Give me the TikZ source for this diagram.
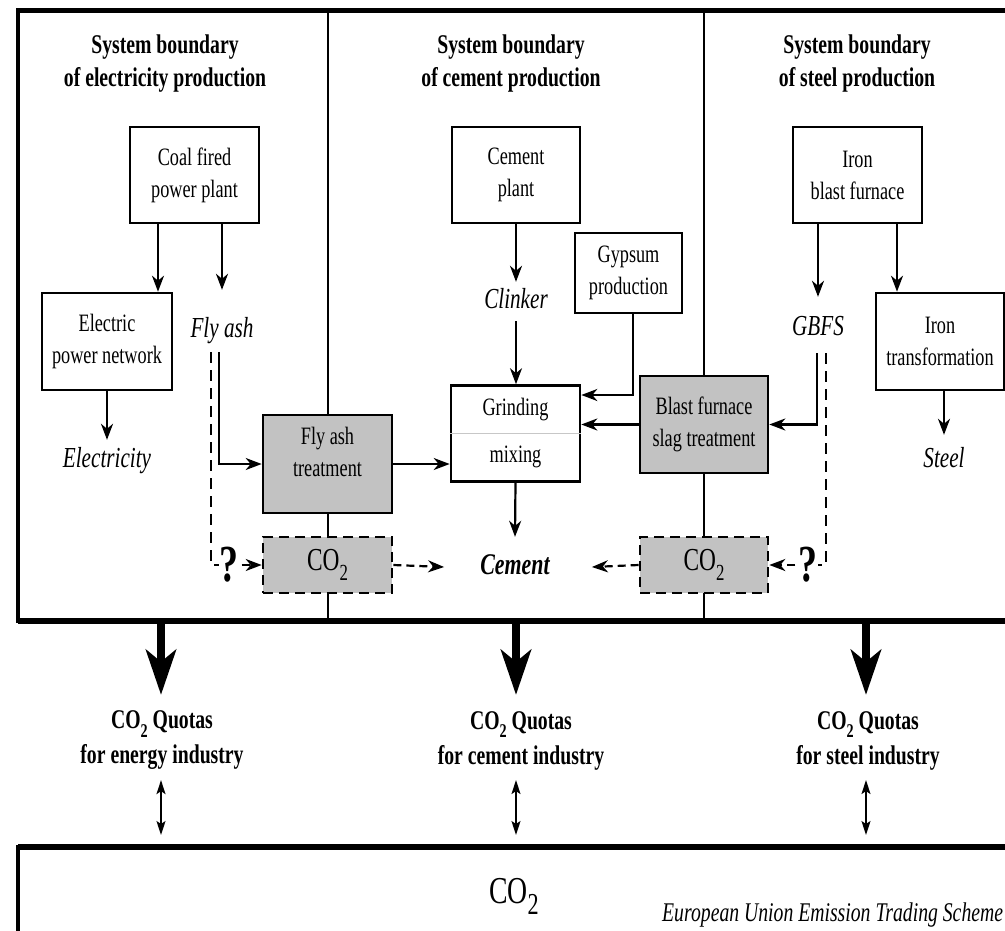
\documentclass[tikz,border=0pt]{standalone}
\usepackage{fontspec}
\setmainfont{Liberation Serif}[FakeStretch=0.73]
\usetikzlibrary{arrows.meta}
\newcommand\szbox{\fontsize{25}{32}\selectfont}
\newcommand\sztitle{\fontsize{27}{33}\selectfont\bfseries}
\newcommand\szlab{\fontsize{29}{33}\selectfont\itshape}
\newcommand\szquota{\fontsize{27}{35}\selectfont\bfseries}
\newcommand\lowsub[2][0.72]{\raisebox{-0.3em}{\scalebox{#1}{#2}}}
\begin{document}
\begin{tikzpicture}[x=1pt,y=-1pt,
  pbox/.style={draw, line width=2.6pt, inner sep=0pt, align=center, font=\szbox},
  gbox/.style={pbox, fill=black!24},
  cbox/.style={gbox, dash pattern=on 10pt off 6pt, font=\fontsize{32}{34}\selectfont},
  lab/.style={font=\szlab, inner sep=0pt, text height=20pt, text depth=6pt},
  ttl/.style={font=\sztitle, align=center, inner sep=0pt},
  quota/.style={font=\szquota, align=center, inner sep=0pt},
  qmark/.style={font=\fontsize{52}{52}\selectfont\bfseries, inner sep=0pt},
  arr/.style={line width=2.2pt, -{Stealth[length=16pt,width=12pt,inset=5pt]}},
  darr/.style={arr, dash pattern=on 8pt off 5pt},
  dline/.style={line width=2.2pt, dash pattern=on 11pt off 7pt},
  bigarr/.style={line width=8pt, -{Stealth[length=45pt,width=30pt,inset=12pt]}},
  dbl/.style={line width=1.6pt, {Stealth[length=14pt,width=9pt,inset=3pt]}-{Stealth[length=14pt,width=9pt,inset=3pt]}},
  divider/.style={line width=2pt}
]
\useasboundingbox (0,0) rectangle (1005,930);
\clip (0,0) rectangle (1005,930);
\fill[white] (0,0) rectangle (1005,930);

% frames
\node[inner sep=0pt, minimum width=1030pt, minimum height=611pt, anchor=north west] (frame) at (18,10) {};
\node[inner sep=0pt, minimum width=1030pt, minimum height=120pt, anchor=north west] (ets) at (18,847) {};

% dividers
\coordinate (d1) at (327.5,0);
\coordinate (d2) at (704,0);
\draw[divider] (frame.north -| d1) -- (frame.south -| d1);
\draw[divider] (frame.north -| d2) -- (frame.south -| d2);

\draw[line width=5pt] (frame.north west) -- (frame.north east);
\draw[line width=3.5pt] ([yshift=2pt]frame.north west) -- ([yshift=-2pt]frame.south west);
\draw[line width=6pt] (frame.south west) -- (frame.south east);
\draw[line width=6pt] (ets.north west) -- (ets.north east);
\draw[line width=3.5pt] ([yshift=2pt]ets.north west) -- (ets.south west);

% titles
\node[ttl] (t1) at (165,63.5) {System boundary\\of electricity production};
\node[ttl] (t2) at (511,63.5) {System boundary\\of cement production};
\node[ttl] (t3) at (857,63.5) {System boundary\\of steel production};

% boxes
\node[pbox, minimum width=129pt, minimum height=96pt] (coal) at (194.5,175) {Coal fired\\power plant};
\node[pbox, minimum width=130pt, minimum height=97pt] (elec) at (107,341.5) {Electric\\power network};
\node[pbox, minimum width=128pt, minimum height=96pt] (cp) at (516,175) {Cement\\plant};
\node[pbox, minimum width=107pt, minimum height=80pt] (gyp) at (628.5,273) {Gypsum\\production};
\node[pbox, minimum width=129pt, minimum height=96pt] (ibf) at (857.5,175) {Iron\\blast furnace};
\node[pbox, minimum width=128pt, minimum height=97pt] (itr) at (940,341.5) {Iron\\transformation};
\node[pbox, minimum width=129pt, minimum height=96pt] (grind) at (515.5,433.5) {};
\draw[line width=1.2pt, black!22] (grind.west) -- (grind.east);
\node[font=\szbox, inner sep=0pt] (grindt) at (515.5,410) {Grinding};
\node[font=\szbox, inner sep=0pt] (mixt) at (515.5,457) {mixing};
\node[gbox, minimum width=129pt, minimum height=98pt] (fat) at (327.5,464) {};
\node[font=\szbox, align=center, inner sep=0pt] (fatt) at (327.5,452) {Fly ash\\treatment};
\node[gbox, minimum width=128pt, minimum height=97pt] (bf) at (704,424.5) {Blast furnace\\slag treatment};
\node[cbox, minimum width=129pt, minimum height=56pt] (co2a) at (327.5,565) {CO\lowsub{2}};
\node[cbox, minimum width=128pt, minimum height=56pt] (co2b) at (704,565) {CO\lowsub{2}};

% labels
\node[lab] (flyash) at (222,330) {Fly ash};
\node[lab] (electricity) at (107,460) {Electricity};
\node[lab] (clinker) at (516,301) {Clinker};
\node[lab] (gbfs) at (818,328) {GBFS};
\node[lab] (steel) at (944,460) {Steel};
\node[lab, font=\fontsize{30}{33}\selectfont\bfseries\itshape] (cement) at (515,567) {Cement};
\node[qmark] (q1) at (229,565) {?};
\node[qmark] (q2) at (808,565) {?};

% arrows
\draw[arr] ([xshift=-36.5pt]coal.south) -- ([xshift=-36.5pt]coal.south |- elec.north);
\draw[arr] ([xshift=27.5pt]coal.south) -- ([yshift=27pt]flyash.north);
\draw[arr] (elec.south) -- ([yshift=7pt]electricity.north);
\draw[arr] ([xshift=-3pt,yshift=-9pt]flyash.south) |- (fat.west);
\draw[dline] ([xshift=-11pt,yshift=-9pt]flyash.south) |- (q1.west);
\draw[darr] ([xshift=3pt]q1.east) -- (co2a.west);
\draw[arr] (fat.east) -- (fat.east -| grind.west);
\draw[darr] (co2a.east) -- ([xshift=-36pt]cement.west);
\draw[arr] (cp.south) -- ([yshift=6pt]clinker.north);
\draw[arr] ([yshift=-7pt]clinker.south) -- (clinker.south |- grind.north);
\draw[arr] ([xshift=4.5pt]gyp.south) |- ([yshift=38.5pt]grind.east);
\draw[arr] (bf.west) -- (bf.west -| grind.east);
\draw[arr] (grind.south) -- ([yshift=17pt]cement.north);
\draw[arr] ([xshift=-39.5pt]ibf.south) -- ([yshift=18pt]gbfs.north);
\draw[arr] ([xshift=39.5pt]ibf.south) -- ([xshift=39.5pt]ibf.south |- itr.north);
\draw[arr] ([xshift=4pt]itr.south) -- ([yshift=12pt]steel.north);
\draw[arr] ([xshift=-1pt,yshift=-12pt]gbfs.south) |- (bf.east);
\draw[dline] ([xshift=8pt,yshift=-12pt]gbfs.south) |- (q2.east);
\draw[darr] ([xshift=-3pt]q2.west) -- (co2b.east);
\draw[darr] (co2b.west) -- ([xshift=42pt]cement.east);

% quotas
\node[quota] (qa) at (162,740.5) {CO\lowsub{2} Quotas\\for energy industry};
\node[quota] (qb) at (521,740.5) {CO\lowsub{2} Quotas\\for cement industry};
\node[quota] (qc) at (868,740.5) {CO\lowsub{2} Quotas\\for steel industry};
\coordinate (xa) at (161,0);
\coordinate (xb) at (516,0);
\coordinate (xc) at (866,0);
\draw[bigarr] (frame.south -| xa) -- ([yshift=16pt]qa.north -| xa);
\draw[bigarr] (frame.south -| xb) -- ([yshift=16pt]qb.north -| xb);
\draw[bigarr] (frame.south -| xc) -- ([yshift=16pt]qc.north -| xc);
\draw[dbl] ([yshift=-10pt]qa.south -| xa) -- ([yshift=12pt]ets.north -| xa);
\draw[dbl] ([yshift=-10pt]qb.south -| xb) -- ([yshift=12pt]ets.north -| xb);
\draw[dbl] ([yshift=-10pt]qc.south -| xc) -- ([yshift=12pt]ets.north -| xc);

% ETS
\node[font=\fontsize{38}{40}\selectfont, anchor=base, inner sep=0pt] (etsco2) at (514,903) {CO\lowsub[0.8]{2}};
\node[font=\fontsize{27}{30}\selectfont\itshape, anchor=base west, inner sep=0pt] (eu) at (662,921) {European Union Emission Trading Scheme};
\end{tikzpicture}
\end{document}
